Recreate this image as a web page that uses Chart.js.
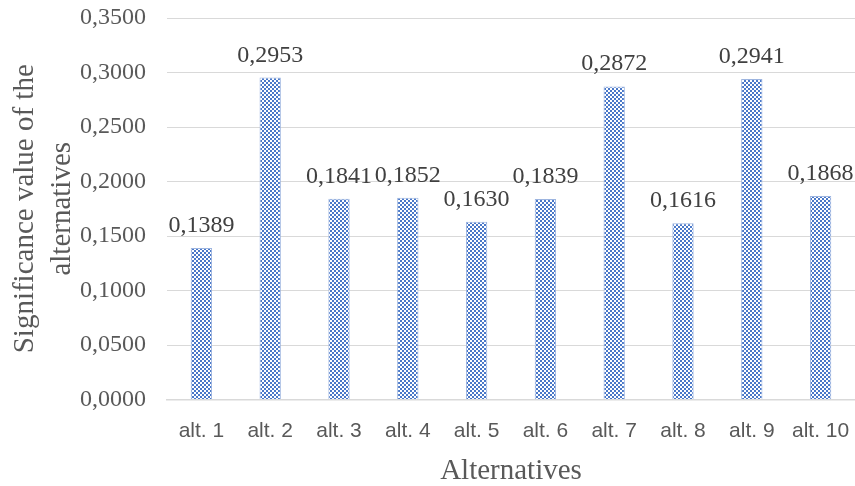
<!DOCTYPE html>
<html>
<head>
<meta charset="utf-8">
<script src="https://cdn.jsdelivr.net/npm/chart.js@4"></script>
<style>
html,body{margin:0;padding:0;background:#fff;}
canvas{display:block;}
</style>
</head>
<body>
<canvas id="c" width="855" height="486"></canvas>
<script>
const categories = ['alt. 1','alt. 2','alt. 3','alt. 4','alt. 5','alt. 6','alt. 7','alt. 8','alt. 9','alt. 10'];
const values = [0.1389, 0.2953, 0.1841, 0.1852, 0.1630, 0.1839, 0.2872, 0.1616, 0.2941, 0.1868];
const yTitle = ['Significance value of the', 'alternatives'];
const xTitle = 'Alternatives';

function fmt(v){ return Number(v).toFixed(4).replace('.', ','); }

// checkerboard pattern
const pc = document.createElement('canvas');
pc.width = 4; pc.height = 4;
const pctx = pc.getContext('2d');
pctx.fillStyle = '#ffffff';
pctx.fillRect(0,0,4,4);
pctx.fillStyle = '#4a78c8';
pctx.fillRect(0,0,2,2);
pctx.fillRect(2,2,2,2);
const ctx = document.getElementById('c').getContext('2d');
const pattern = ctx.createPattern(pc, 'repeat');

const labelPlugin = {
  id: 'valueLabels',
  afterDatasetsDraw(chart){
    const c = chart.ctx;
    const meta = chart.getDatasetMeta(0);
    c.save();
    c.font = '24px "Liberation Serif"';
    c.fillStyle = '#404040';
    c.textAlign = 'center';
    c.textBaseline = 'alphabetic';
    meta.data.forEach((bar, i) => {
      c.fillText(fmt(values[i]), bar.x, bar.y - 16);
    });
    c.restore();
  }
};

new Chart(ctx, {
  type: 'bar',
  data: {
    labels: categories,
    datasets: [{
      data: values,
      backgroundColor: pattern,
      borderColor: '#9db5e0',
      borderWidth: 1,
      barPercentage: 0.62,
      categoryPercentage: 0.5
    }]
  },
  plugins: [labelPlugin],
  options: {
    responsive: false,
    devicePixelRatio: 1,
    animation: false,
    layout: { padding: { top: 18, right: 0, left: 0, bottom: 0 } },
    plugins: { legend: { display: false }, tooltip: { enabled: false } },
    scales: {
      x: {
        grid: { display: false, drawTicks: false },
        border: { display: true, color: '#d9d9d9', width: 1.5 },
        ticks: {
          color: '#595959',
          font: { family: '"Liberation Sans"', size: 21 },
          padding: 19,
          maxRotation: 0,
          autoSkip: false
        },
        title: {
          display: true,
          text: xTitle,
          color: '#595959',
          font: { family: '"Liberation Serif"', size: 29, lineHeight: 1 },
          padding: { top: 0, bottom: 0 }
        },
        afterFit(s){ s.height = 86.5; s.paddingLeft = 0; s.paddingRight = 0; }
      },
      y: {
        min: 0,
        max: 0.35,
        grid: { color: '#d9d9d9', lineWidth: 1, drawTicks: false },
        border: { display: false },
        ticks: {
          stepSize: 0.05,
          color: '#595959',
          font: { family: '"Liberation Serif"', size: 24 },
          padding: 21,
          callback: (v) => fmt(v)
        },
        title: {
          display: true,
          text: yTitle,
          color: '#595959',
          font: { family: '"Liberation Serif"', size: 29, lineHeight: 1.28 },
          padding: { top: 6.5, bottom: 0 }
        },
        afterFit(s){ s.width = 167; s.paddingTop = 0; s.paddingBottom = 0; }
      }
    }
  }
});
</script>
</body>
</html>
